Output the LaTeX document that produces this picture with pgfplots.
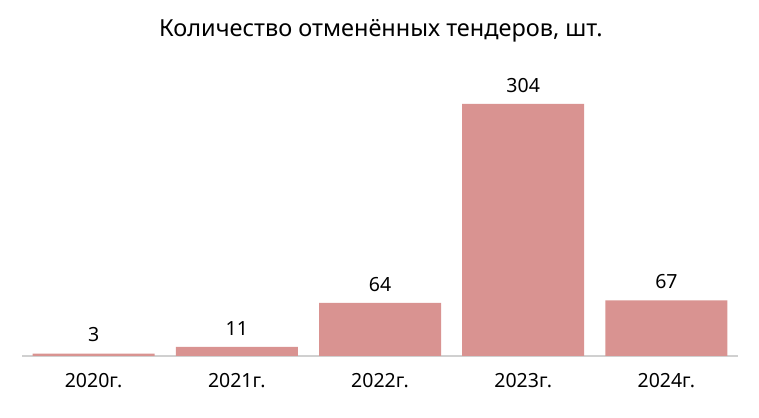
\documentclass[border=0pt]{standalone}
\usepackage{pgfplots}
\pgfplotsset{compat=1.18}
\usepackage{fontspec}
\setmainfont{Noto Sans}
\definecolor{barc}{HTML}{D99391}
\definecolor{axc}{HTML}{D0D0D0}
\begin{document}
\begin{tikzpicture}
\path[use as bounding box] (0,0) rectangle (759bp,418bp);
\node[font=\fontsize{23.5bp}{27bp}\selectfont, anchor=center] at (381bp,387bp) {Количество отменённых тендеров, шт.};
\begin{axis}[
  at={(22bp,62bp)}, anchor=south west,
  scale only axis, width=716bp, height=296bp,
  xmin=-0.5, xmax=4.5, ymin=0, ymax=357,
  axis y line=none,
  axis x line*=bottom,
  x axis line style={draw=axc, line width=1.6bp, -},
  xtick=data, xticklabels={2020г.,2021г.,2022г.,2023г.,2024г.},
  major tick length=0pt,
  xticklabel style={font=\fontsize{19.5bp}{22bp}\selectfont, yshift=-14bp},
  ybar, bar width=122bp,
  nodes near coords,
  every node near coord/.append style={font=\fontsize{19.5bp}{22bp}\selectfont, text=black, yshift=8bp},
  /pgf/number format/assume math mode=true,
  clip=false,
]
\addplot[fill=barc, draw=none] coordinates {(0,3) (1,11) (2,64) (3,304) (4,67)};
\end{axis}
\end{tikzpicture}
\end{document}
